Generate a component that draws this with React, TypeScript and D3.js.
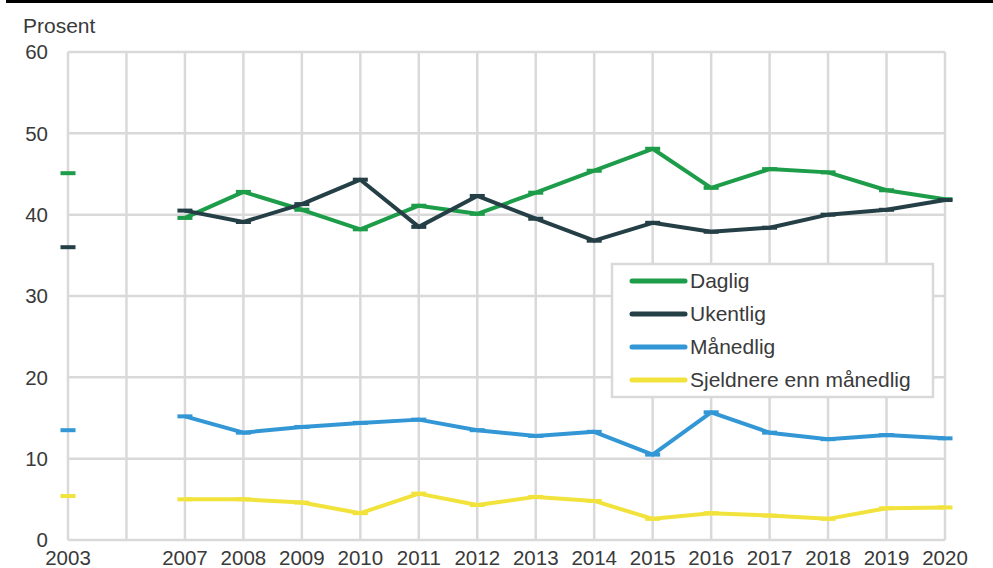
import React from "react";
import * as d3 from "d3";

const years = ["2003", "", "2007", "2008", "2009", "2010", "2011", "2012", "2013", "2014", "2015", "2016", "2017", "2018", "2019", "2020"];
const daglig = [45.1, null, 39.6, 42.8, 40.6, 38.2, 41.1, 40.1, 42.7, 45.4, 48.1, 43.3, 45.6, 45.2, 43.0, 41.9];
const ukentlig = [36.0, null, 40.5, 39.1, 41.3, 44.3, 38.5, 42.3, 39.5, 36.8, 39.0, 37.9, 38.4, 40.0, 40.6, 41.8];
const maanedlig = [13.5, null, 15.2, 13.2, 13.9, 14.4, 14.8, 13.5, 12.8, 13.3, 10.5, 15.7, 13.2, 12.4, 12.9, 12.5];
const sjeldnere = [5.4, null, 5.0, 5.0, 4.6, 3.3, 5.7, 4.3, 5.3, 4.8, 2.6, 3.3, 3.0, 2.6, 3.9, 4.0];
const yTicks = [0, 10, 20, 30, 40, 50, 60];

const series = [
  { name: "Daglig", values: daglig, color: "#1d9d49" },
  { name: "Ukentlig", values: ukentlig, color: "#253f46" },
  { name: "Månedlig", values: maanedlig, color: "#3397d5" },
  { name: "Sjeldnere enn månedlig", values: sjeldnere, color: "#f1e33c" },
];

const W = 993, H = 568;
const left = 68, right = 945, top = 52, bottom = 540;
const font = "'Liberation Sans', Arial, sans-serif";
const textColor = "#3a3a3a";
const gridColor = "#d9d9d9";

export default function App() {
  const x = d3.scalePoint<number>().domain(d3.range(years.length)).range([left, right]).padding(0);
  const y = d3.scaleLinear().domain([0, 60]).range([bottom, top]);

  const line = d3
    .line<number | null>()
    .defined(d => d != null)
    .x((_, i) => x(i) as number)
    .y(d => y(d as number));

  return (
    <svg width={W} height={H} style={{ position: "absolute", left: 0, top: 0, background: "#fff" }} fontFamily={font}>
      <rect x={6} y={0} width={W - 6} height={3} fill="#000" />
      <text x={23} y={33} fontSize={21} fill={textColor}>Prosent</text>

      {/* grid */}
      {yTicks.map(t => (
        <g key={t}>
          <line x1={left} x2={right} y1={y(t)} y2={y(t)} stroke={gridColor} strokeWidth={2.5} />
          <text x={48} y={y(t)} dy="0.36em" fontSize={20.5} textAnchor="end" fill={textColor}>{t}</text>
        </g>
      ))}
      {years.map((yr, i) => (
        <g key={i}>
          <line x1={x(i)} x2={x(i)} y1={top} y2={bottom} stroke={gridColor} strokeWidth={2.5} />
          <text x={x(i)} y={565} fontSize={20.5} textAnchor="middle" fill={textColor}>{yr}</text>
        </g>
      ))}

      {/* lines */}
      {series.map(s => (
        <g key={s.name}>
          <path d={line(s.values) || ""} fill="none" stroke={s.color} strokeWidth={4} strokeLinejoin="round" />
          {s.values.map((v, i) =>
            v == null ? null : (
              <rect key={i} x={(x(i) as number) - 7.5} y={y(v) - 2} width={15} height={4} fill={s.color} />
            )
          )}
        </g>
      ))}

      {/* legend */}
      <rect x={612} y={264} width={321} height={133} fill="#fff" stroke={gridColor} strokeWidth={2.5} />
      {series.map((s, i) => (
        <g key={s.name} transform={`translate(0,${281 + i * 33})`}>
          <line x1={632} x2={685} y1={0} y2={0} stroke={s.color} strokeWidth={5} strokeLinecap="round" />
          <text x={690} y={0} dy="0.35em" fontSize={21} fill={textColor}>{s.name}</text>
        </g>
      ))}
    </svg>
  );
}
